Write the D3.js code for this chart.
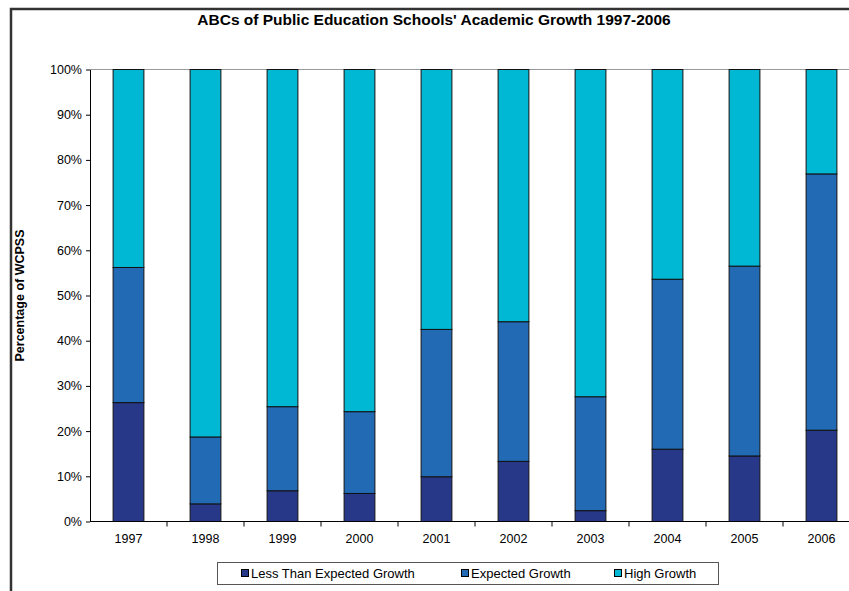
<!DOCTYPE html>
<html>
<head>
<meta charset="utf-8">
<script src="https://cdn.jsdelivr.net/npm/d3@7/dist/d3.min.js"></script>
<style>
  html, body { margin: 0; padding: 0; background: #fff; }
  svg { display: block; font-family: "Liberation Sans", Arial, sans-serif; }
</style>
</head>
<body>
<svg id="chart" width="849" height="591"></svg>
<script>
const years = ["1997","1998","1999","2000","2001","2002","2003","2004","2005","2006"];
const lessThanExpected = [26.3, 3.9, 6.8, 6.2, 9.9, 13.3, 2.4, 16.0, 14.5, 20.2];
const expectedGrowth   = [29.9, 14.8, 18.6, 18.1, 32.6, 30.9, 25.2, 37.6, 42.0, 56.7];
const highGrowth       = [43.8, 81.3, 74.6, 75.7, 57.5, 55.8, 72.4, 46.4, 43.5, 23.1];
const seriesNames = ["Less Than Expected Growth", "Expected Growth", "High Growth"];
const seriesColors = ["#283888", "#226AB4", "#00B8D4"];
const yTicks = [0, 10, 20, 30, 40, 50, 60, 70, 80, 90, 100];
const titleText = "ABCs of Public Education Schools' Academic Growth 1997-2006";
const yAxisTitle = "Percentage of WCPSS";

const keys = ["lte", "exp", "high"];
const rows = years.map((y, i) => ({ year: y, lte: lessThanExpected[i], exp: expectedGrowth[i], high: highGrowth[i] }));

const svg = d3.select("#chart");

// Outer frame (left and top border)
svg.append("path")
  .attr("d", "M11,591 L11,9 L849,9")
  .attr("fill", "none").attr("stroke", "#333").attr("stroke-width", 2.5);

const plot = { left: 90, right: 860, top: 69.5, bottom: 521.5 };

const x = d3.scaleBand().domain(years).range([plot.left, plot.right]).padding(0);
const y = d3.scaleLinear().domain([0, 100]).range([plot.bottom, plot.top]);

// Title
svg.append("text")
  .attr("x", 434).attr("y", 25)
  .attr("text-anchor", "middle")
  .attr("font-size", 15.5).attr("font-weight", "bold")
  .text(titleText);

// Top border of plot area (gray)
svg.append("line")
  .attr("x1", plot.left).attr("x2", 849)
  .attr("y1", y(100)).attr("y2", y(100))
  .attr("stroke", "#999").attr("stroke-width", 1);

// Stacked bars
const stacked = d3.stack().keys(keys)(rows);
const barW = x.bandwidth() * 0.4;
const g = svg.append("g");
stacked.forEach((layer, li) => {
  g.append("g").selectAll("rect").data(layer).join("rect")
    .attr("x", d => x(d.data.year) + (x.bandwidth() - barW) / 2)
    .attr("width", barW)
    .attr("y", d => y(d[1]))
    .attr("height", d => y(d[0]) - y(d[1]))
    .attr("fill", seriesColors[li])
    .attr("stroke", "#111").attr("stroke-width", 1);
});

// Y axis
const yAxis = d3.axisLeft(y).tickValues(yTicks).tickSize(4).tickSizeOuter(0).tickFormat(d => d + "%");
const yg = svg.append("g").attr("transform", `translate(${plot.left},0)`).call(yAxis);
yg.select(".domain").attr("stroke", "#000");
yg.selectAll(".tick line").attr("stroke", "#000");
yg.selectAll(".tick text").attr("font-size", 12.5).attr("fill", "#000")
  .attr("font-family", "Liberation Sans, Arial, sans-serif").attr("x", -8);

// X axis
const xAxis = d3.axisBottom(x).tickSize(0).tickSizeOuter(0);
const xg = svg.append("g").attr("transform", `translate(0,${plot.bottom})`).call(xAxis);
xg.select(".domain").attr("stroke", "#000").attr("d", `M${plot.left},0H849`);
xg.selectAll(".tick text").attr("font-size", 12.5).attr("fill", "#000")
  .attr("font-family", "Liberation Sans, Arial, sans-serif").attr("y", 13);
// tick marks at category boundaries
xg.selectAll("line.bound").data(years.slice(1)).join("line")
  .attr("class", "bound")
  .attr("x1", d => x(d)).attr("x2", d => x(d))
  .attr("y1", 0).attr("y2", 5)
  .attr("stroke", "#000");

// Y axis title
svg.append("text")
  .attr("transform", `translate(24,${(plot.top + plot.bottom) / 2}) rotate(-90)`)
  .attr("text-anchor", "middle")
  .attr("font-size", 12.5).attr("font-weight", "bold")
  .text(yAxisTitle);

// Legend
const legend = svg.append("g");
legend.append("rect")
  .attr("x", 217.5).attr("y", 562.5).attr("width", 501).attr("height", 22)
  .attr("fill", "#fff").attr("stroke", "#555").attr("stroke-width", 1);
const legendX = [241, 461, 614];
seriesNames.forEach((name, i) => {
  legend.append("rect")
    .attr("x", legendX[i] + 0.5).attr("y", 569.5).attr("width", 7).attr("height", 7)
    .attr("fill", seriesColors[i]).attr("stroke", "#000").attr("stroke-width", 1);
  legend.append("text")
    .attr("x", legendX[i] + 10).attr("y", 578)
    .attr("font-size", 13).attr("fill", "#000")
    .text(name);
});
</script>
</body>
</html>
